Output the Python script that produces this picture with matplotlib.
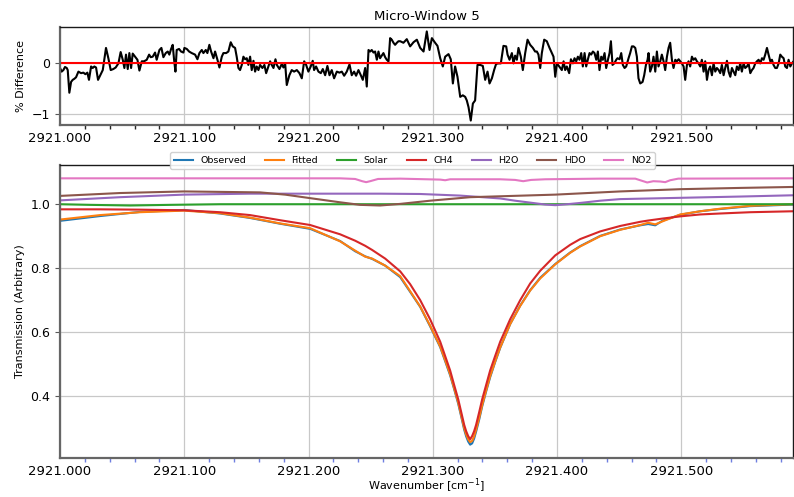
import matplotlib
matplotlib.use("Agg")
import matplotlib.pyplot as plt
import numpy as np
from matplotlib.ticker import MultipleLocator, FormatStrFormatter

WN0 = 2921.0

# residual (% difference), wavenumber offsets from 2921.0
diff_dx = [
    0.0000, 0.0013, 0.0027, 0.0040, 0.0054, 0.0062, 0.0075, 0.0089, 0.0102, 0.0115,
    0.0129, 0.0148, 0.0169, 0.0188, 0.0204, 0.0220, 0.0233, 0.0250, 0.0263, 0.0276,
    0.0290, 0.0306, 0.0322, 0.0344, 0.0370, 0.0389, 0.0408, 0.0429, 0.0448, 0.0470,
    0.0488, 0.0505, 0.0518, 0.0531, 0.0545, 0.0558, 0.0572, 0.0585, 0.0604, 0.0623,
    0.0639, 0.0658, 0.0676, 0.0698, 0.0717, 0.0730, 0.0746, 0.0765, 0.0778, 0.0800,
    0.0816, 0.0832, 0.0851, 0.0867, 0.0880, 0.0894, 0.0907, 0.0918, 0.0929, 0.0939,
    0.0958, 0.0974, 0.0993, 0.1001, 0.1020, 0.1039, 0.1060, 0.1087, 0.1106, 0.1122,
    0.1141, 0.1154, 0.1173, 0.1186, 0.1202, 0.1216, 0.1235, 0.1248, 0.1267, 0.1283,
    0.1302, 0.1315, 0.1337, 0.1355, 0.1374, 0.1390, 0.1409, 0.1422, 0.1436, 0.1449,
    0.1463, 0.1476, 0.1490, 0.1503, 0.1516, 0.1530, 0.1543, 0.1557, 0.1570, 0.1583,
    0.1597, 0.1610, 0.1629, 0.1645, 0.1659, 0.1677, 0.1691, 0.1704, 0.1718, 0.1734,
    0.1745, 0.1766, 0.1785, 0.1798, 0.1812, 0.1825, 0.1846, 0.1865, 0.1884, 0.1906,
    0.1927, 0.1946, 0.1965, 0.1981, 0.1999, 0.2018, 0.2034, 0.2045, 0.2061, 0.2080,
    0.2099, 0.2115, 0.2134, 0.2152, 0.2169, 0.2187, 0.2206, 0.2228, 0.2249, 0.2268,
    0.2287, 0.2308, 0.2330, 0.2348, 0.2367, 0.2383, 0.2402, 0.2421, 0.2437, 0.2456,
    0.2469, 0.2483, 0.2496, 0.2509, 0.2523, 0.2536, 0.2550, 0.2563, 0.2576, 0.2590,
    0.2603, 0.2617, 0.2630, 0.2644, 0.2657, 0.2670, 0.2684, 0.2697, 0.2711, 0.2724,
    0.2738, 0.2764, 0.2791, 0.2818, 0.2845, 0.2872, 0.2899, 0.2926, 0.2952, 0.2974,
    0.2993, 0.3019, 0.3038, 0.3060, 0.3081, 0.3100, 0.3127, 0.3145, 0.3162, 0.3180,
    0.3199, 0.3221, 0.3242, 0.3261, 0.3274, 0.3288, 0.3306, 0.3323, 0.3341, 0.3360,
    0.3382, 0.3403, 0.3422, 0.3441, 0.3457, 0.3476, 0.3494, 0.3510, 0.3529, 0.3548,
    0.3569, 0.3591, 0.3602, 0.3618, 0.3637, 0.3650, 0.3663, 0.3677, 0.3690, 0.3709,
    0.3725, 0.3744, 0.3763, 0.3784, 0.3806, 0.3824, 0.3838, 0.3851, 0.3865, 0.3878,
    0.3897, 0.3918, 0.3940, 0.3959, 0.3972, 0.3986, 0.3999, 0.4018, 0.4039, 0.4053,
    0.4066, 0.4079, 0.4098, 0.4112, 0.4128, 0.4141, 0.4155, 0.4168, 0.4181, 0.4195,
    0.4208, 0.4222, 0.4235, 0.4248, 0.4262, 0.4275, 0.4289, 0.4302, 0.4316, 0.4329,
    0.4342, 0.4356, 0.4369, 0.4383, 0.4396, 0.4410, 0.4423, 0.4434, 0.4447, 0.4461,
    0.4477, 0.4487, 0.4504, 0.4517, 0.4530, 0.4544, 0.4557, 0.4576, 0.4589, 0.4603,
    0.4616, 0.4630, 0.4643, 0.4656, 0.4670, 0.4689, 0.4702, 0.4716, 0.4729, 0.4737,
    0.4750, 0.4764, 0.4777, 0.4791, 0.4804, 0.4817, 0.4831, 0.4844, 0.4858, 0.4871,
    0.4885, 0.4898, 0.4911, 0.4925, 0.4938, 0.4952, 0.4965, 0.4979, 0.4992, 0.5005,
    0.5019, 0.5032, 0.5046, 0.5059, 0.5072, 0.5086, 0.5099, 0.5113, 0.5126, 0.5140,
    0.5153, 0.5166, 0.5180, 0.5193, 0.5207, 0.5220, 0.5233, 0.5247, 0.5260, 0.5274,
    0.5287, 0.5301, 0.5314, 0.5327, 0.5341, 0.5354, 0.5368, 0.5381, 0.5395, 0.5408,
    0.5421, 0.5435, 0.5448, 0.5462, 0.5475, 0.5488, 0.5502, 0.5515, 0.5529, 0.5542,
    0.5556, 0.5569, 0.5582, 0.5596, 0.5609, 0.5623, 0.5636, 0.5650, 0.5663, 0.5676,
    0.5690, 0.5703, 0.5717, 0.5730, 0.5743, 0.5757, 0.5770, 0.5784, 0.5797, 0.5810,
    0.5824, 0.5837, 0.5851, 0.5864, 0.5878, 0.5891, 0.5904,
]
diff_pct = [
    -0.10, -0.17, -0.14, -0.08, -0.10, -0.14, -0.58, -0.37, -0.33, -0.31,
    -0.28, -0.17, -0.20, -0.19, -0.22, -0.19, -0.33, -0.07, -0.10, -0.07,
    -0.09, -0.33, -0.25, -0.14, 0.29, 0.09, -0.14, -0.12, -0.09, -0.01,
    0.21, 0.06, -0.10, 0.16, -0.12, 0.19, -0.10, 0.18, 0.12, 0.06,
    -0.15, 0.03, 0.03, 0.06, 0.16, 0.11, 0.12, 0.20, 0.06, 0.25,
    0.29, 0.11, 0.19, 0.22, 0.16, 0.27, 0.35, 0.06, -0.17, 0.25,
    0.27, 0.22, 0.20, 0.29, 0.27, 0.22, 0.19, 0.16, 0.07, 0.19,
    0.25, 0.19, 0.25, 0.19, 0.35, 0.22, 0.09, 0.22, 0.06, -0.09,
    0.12, 0.19, 0.19, 0.22, 0.40, 0.32, 0.29, 0.12, -0.10, -0.14,
    -0.04, 0.12, 0.07, 0.09, -0.04, 0.12, -0.14, 0.04, -0.17, -0.07,
    -0.14, -0.04, -0.10, -0.04, -0.20, -0.07, 0.03, -0.04, -0.10, 0.07,
    -0.04, -0.12, -0.02, -0.09, -0.01, -0.43, -0.24, -0.14, -0.17, -0.14,
    -0.20, -0.30, 0.03, -0.04, -0.17, -0.07, 0.04, -0.14, -0.07, -0.17,
    -0.20, -0.12, -0.24, -0.06, -0.24, -0.14, -0.30, -0.17, -0.19, -0.17,
    -0.25, -0.17, -0.03, -0.24, -0.17, -0.25, -0.14, -0.24, -0.33, -0.10,
    -0.46, 0.25, 0.22, 0.25, 0.20, 0.22, 0.06, 0.22, 0.09, 0.14,
    0.19, 0.11, 0.06, 0.03, 0.48, 0.45, 0.39, 0.35, 0.39, 0.42,
    0.42, 0.39, 0.46, 0.32, 0.40, 0.45, 0.29, 0.22, 0.61, 0.25,
    0.48, 0.39, 0.33, 0.09, -0.07, 0.12, 0.17, 0.07, -0.40, -0.07,
    -0.27, -0.66, -0.63, -0.66, -0.73, -0.86, -1.12, -0.79, -0.73, -0.04,
    -0.04, -0.06, -0.33, -0.17, -0.40, -0.30, -0.14, -0.02, -0.01, -0.01,
    0.33, 0.32, 0.16, 0.06, 0.19, -0.01, 0.14, 0.06, 0.29, 0.12,
    -0.14, 0.19, 0.45, 0.35, 0.29, 0.22, 0.22, 0.16, -0.10, 0.19,
    0.45, 0.42, 0.29, 0.19, 0.12, -0.27, -0.01, -0.07, -0.14, 0.03,
    -0.14, -0.07, -0.20, 0.07, -0.01, 0.09, 0.03, 0.12, 0.06, 0.19,
    -0.07, 0.19, -0.07, 0.06, 0.19, 0.16, 0.22, 0.19, 0.06, 0.22,
    -0.14, 0.12, 0.06, 0.19, -0.10, 0.06, 0.19, 0.42, -0.04, -0.01,
    0.06, 0.09, 0.07, 0.19, -0.04, -0.10, -0.07, 0.09, 0.19, 0.32,
    0.32, 0.29, 0.12, -0.30, -0.40, -0.37, -0.24, -0.04, 0.06, 0.19,
    -0.17, -0.07, 0.12, -0.17, 0.22, -0.07, 0.03, 0.16, 0.03, -0.14,
    0.12, 0.29, 0.39, 0.06, -0.10, 0.06, 0.03, 0.07, 0.03, -0.01,
    -0.07, -0.33, -0.04, 0.03, -0.07, 0.12, 0.06, 0.09, 0.03, -0.01,
    -0.07, 0.06, -0.17, 0.03, -0.33, -0.14, -0.07, -0.24, -0.01, -0.17,
    -0.10, -0.14, -0.20, -0.04, -0.24, -0.10, 0.04, -0.17, -0.27, -0.10,
    -0.17, -0.24, -0.07, -0.14, -0.01, -0.17, -0.01, -0.10, -0.07, -0.01,
    -0.20, -0.14, -0.10, -0.01, 0.03, 0.06, -0.01, 0.09, 0.06, 0.16,
    0.29, 0.16, 0.03, 0.06, -0.04, -0.10, -0.10, -0.01, 0.16, 0.12,
    0.09, -0.07, -0.10, 0.06, -0.07, -0.01, 0.03,
]

# transmission spectra around the CH4 line
line_dx = [
    0.0000, 0.0322, 0.0644, 0.0998, 0.1288, 0.1530, 0.1771, 0.2013, 0.2254, 0.2375,
    0.2456, 0.2512, 0.2617, 0.2738, 0.2818, 0.2899, 0.2979, 0.3060, 0.3100, 0.3140,
    0.3172, 0.3205, 0.3229, 0.3253, 0.3269, 0.3285, 0.3301, 0.3317, 0.3333, 0.3349,
    0.3374, 0.3398, 0.3430, 0.3462, 0.3502, 0.3543, 0.3623, 0.3704, 0.3784, 0.3865,
    0.3986, 0.4106, 0.4187, 0.4348, 0.4509, 0.4670, 0.4734, 0.4791, 0.4847, 0.4992,
    0.5153, 0.5314, 0.5556, 0.5902,
]
observed = [
    0.948, 0.963, 0.976, 0.982, 0.971, 0.957, 0.939, 0.923, 0.885, 0.853,
    0.837, 0.829, 0.808, 0.772, 0.726, 0.679, 0.618, 0.553, 0.509, 0.465,
    0.422, 0.376, 0.336, 0.295, 0.274, 0.258, 0.248, 0.252, 0.267, 0.289,
    0.327, 0.368, 0.415, 0.459, 0.506, 0.551, 0.625, 0.683, 0.731, 0.770,
    0.813, 0.849, 0.869, 0.901, 0.921, 0.934, 0.938, 0.934, 0.948, 0.967,
    0.978, 0.985, 0.994, 0.999,
]
fitted = [
    0.952, 0.966, 0.975, 0.980, 0.972, 0.958, 0.940, 0.925, 0.884, 0.855,
    0.836, 0.830, 0.808, 0.775, 0.728, 0.680, 0.620, 0.555, 0.512, 0.468,
    0.425, 0.380, 0.340, 0.300, 0.280, 0.265, 0.256, 0.260, 0.274, 0.295,
    0.332, 0.372, 0.418, 0.462, 0.508, 0.552, 0.625, 0.682, 0.730, 0.768,
    0.812, 0.848, 0.868, 0.900, 0.920, 0.935, 0.942, 0.937, 0.946, 0.968,
    0.978, 0.986, 0.995, 1.000,
]
ch4 = [
    0.984, 0.984, 0.983, 0.981, 0.975, 0.966, 0.950, 0.935, 0.906, 0.886,
    0.870, 0.857, 0.830, 0.790, 0.750, 0.700, 0.640, 0.570, 0.525, 0.480,
    0.435, 0.390, 0.350, 0.310, 0.290, 0.275, 0.265, 0.275, 0.290, 0.310,
    0.350, 0.390, 0.435, 0.480, 0.525, 0.570, 0.640, 0.700, 0.752, 0.792,
    0.840, 0.873, 0.891, 0.915, 0.932, 0.945, 0.949, 0.952, 0.955, 0.962,
    0.968, 0.971, 0.975, 0.978,
]

solar_dx = [0.0, 0.0242, 0.0564, 0.0886, 0.1288, 0.5902]
solar = [1.000, 0.998, 0.996, 0.998, 1.000, 1.000]

h2o_dx = [0.0, 0.0483, 0.0998, 0.1530, 0.2576, 0.2899, 0.3221, 0.3543, 0.3663, 0.3784,
          0.3905, 0.3986, 0.4082, 0.4187, 0.4348, 0.4509, 0.4992, 0.5475, 0.5902]
h2o = [1.012, 1.022, 1.030, 1.033, 1.033, 1.032, 1.027, 1.018, 1.011, 1.005,
       0.999, 0.997, 1.000, 1.004, 1.011, 1.016, 1.020, 1.024, 1.028]

hdo_dx = [0.0, 0.0483, 0.0998, 0.1610, 0.1812, 0.2013, 0.2254, 0.2415, 0.2576, 0.2738,
          0.2979, 0.3301, 0.3986, 0.4509, 0.4992, 0.5475, 0.5902]
hdo = [1.026, 1.035, 1.040, 1.037, 1.030, 1.019, 1.006, 0.998, 0.996, 1.001,
       1.011, 1.022, 1.030, 1.040, 1.047, 1.051, 1.054]

no2_dx = [0.0, 0.2254, 0.2375, 0.2432, 0.2464, 0.2496, 0.2560, 0.2738, 0.3060, 0.3100,
          0.3140, 0.3543, 0.3663, 0.3728, 0.3792, 0.3905, 0.4348, 0.4630, 0.4686, 0.4726,
          0.4775, 0.4831, 0.4871, 0.4911, 0.4976, 0.5902]
no2 = [1.081, 1.081, 1.079, 1.072, 1.069, 1.072, 1.079, 1.080, 1.077, 1.075,
       1.078, 1.078, 1.076, 1.072, 1.076, 1.078, 1.080, 1.080, 1.073, 1.068,
       1.072, 1.071, 1.069, 1.075, 1.080, 1.081]

x_range = (2921.0, 2921.59)


def style_axis(ax, minor_color):
    ax.set_xlim(*x_range)
    ax.xaxis.set_major_locator(MultipleLocator(0.1))
    ax.xaxis.set_minor_locator(MultipleLocator(0.02))
    ax.xaxis.set_major_formatter(FormatStrFormatter('%.3f'))
    ax.tick_params(axis='x', which='major', length=0, pad=5, labelsize=9.5)
    ax.tick_params(axis='x', which='minor', length=3, color=minor_color, width=1)
    ax.tick_params(axis='y', which='major', labelsize=9, length=3.5, color='0.35')
    ax.grid(True, color='#c8c8c8', linewidth=0.9)
    ax.set_axisbelow(True)
    for side in ('left', 'bottom'):
        ax.spines[side].set_color('0.4')
        ax.spines[side].set_linewidth(1.6)
    for side in ('top', 'right'):
        ax.spines[side].set_color('0.1')
        ax.spines[side].set_linewidth(1.0)


fig = plt.figure(figsize=(7.94, 4.97), dpi=100)
ax1 = fig.add_axes([0.0756, 0.7485, 0.9232, 0.1972])
ax2 = fig.add_axes([0.0756, 0.0785, 0.9232, 0.5895])

# residual panel
ax1.plot(WN0 + np.array(diff_dx), diff_pct, color='black', lw=1.5)
ax1.axhline(0, color='red', lw=1.5)
style_axis(ax1, '0.15')
ax1.yaxis.set_major_locator(MultipleLocator(1))
ax1.set_ylabel('% Difference', fontsize=8)
ax1.set_title('Micro-Window 5', fontsize=9.5, pad=5)

# transmission panel
lx = WN0 + np.array(line_dx)
ax2.plot(lx, observed, color='C0', lw=1.5, label='Observed')
ax2.plot(lx, fitted, color='C1', lw=1.5, label='Fitted')
ax2.plot(WN0 + np.array(solar_dx), solar, color='C2', lw=1.5, label='Solar')
ax2.plot(lx, ch4, color='C3', lw=1.5, label='CH4')
ax2.plot(WN0 + np.array(h2o_dx), h2o, color='C4', lw=1.5, label='H2O')
ax2.plot(WN0 + np.array(hdo_dx), hdo, color='C5', lw=1.5, label='HDO')
ax2.plot(WN0 + np.array(no2_dx), no2, color='C6', lw=1.5, label='NO2')
style_axis(ax2, '#6f7fe0')
ax2.set_ylabel('Transmission (Arbitrary)', fontsize=8)
ax2.set_xlabel('Wavenumber [cm$^{-1}$]', fontsize=8, labelpad=-1)
ax2.legend(loc='upper center', bbox_to_anchor=(0.481, 1.06), ncol=7,
           fontsize=6.8, framealpha=0.9)

fig.savefig('out.png', dpi=100)
